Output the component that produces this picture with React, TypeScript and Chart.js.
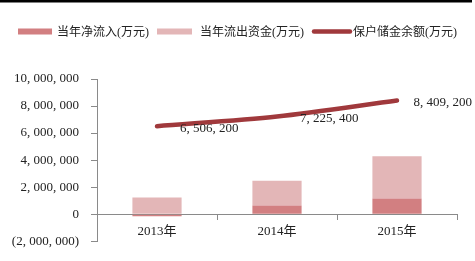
import React, { useEffect, useRef } from "react";
import { Chart, registerables } from "chart.js";

Chart.register(...registerables);

const categories = ["2013年", "2014年", "2015年"];
const netInflow = [-150000, 650000, 1160000];
const outflowFunds = [1240000, 1820000, 3130000];
const reserveBalance = [6506200, 7225400, 8409200];
const yTicks = { min: -2000000, max: 10000000, step: 2000000 };
const seriesNames = ["当年净流入(万元)", "当年流出资金(万元)", "保户储金余额(万元)"];

const COLORS = { net: "#d27f81", out: "#e3b6b7", line: "#a0393c", axis: "#8a8a8a", text: "#222" };
const FONT = "'Liberation Serif', 'Noto Sans CJK SC', serif";

function fmt(v: number): string {
  const s = Math.abs(v).toLocaleString("en-US").replace(/,/g, ", ");
  return v < 0 ? `(${s})` : s;
}

const extras = {
  id: "extras",
  afterDraw(chart: any) {
    const ctx = chart.ctx as CanvasRenderingContext2D;
    const W = chart.width;
    ctx.save();
    // top rule
    ctx.fillStyle = "#000000";
    ctx.fillRect(0, 0, 472, 2.5);

    // legend
    ctx.font = `12px ${FONT}`;
    ctx.textBaseline = "middle";
    const cy = 31.5;
    const items = [
      { kind: "box", color: COLORS.net, w: 34, gapAfterBox: 5 },
      { kind: "box", color: COLORS.out, w: 35, gapAfterBox: 8 },
      { kind: "line", color: COLORS.line, w: 40, gapAfterBox: 1 },
    ];
    const gapBetween = 8;
    const widths = items.map((it, i) => it.w + it.gapAfterBox + ctx.measureText(seriesNames[i]).width);
    const total = widths.reduce((a, b) => a + b, 0) + gapBetween * (items.length - 1);
    let x = (W - total) / 2;
    items.forEach((it, i) => {
      if (it.kind === "box") {
        ctx.fillStyle = it.color;
        ctx.fillRect(x, cy - 3, it.w, 6);
      } else {
        ctx.strokeStyle = it.color;
        ctx.lineWidth = 4.5;
        ctx.lineCap = "round";
        ctx.beginPath();
        ctx.moveTo(x + 2, cy);
        ctx.lineTo(x + it.w - 2, cy);
        ctx.stroke();
      }
      ctx.fillStyle = COLORS.text;
      ctx.textAlign = "left";
      ctx.fillText(seriesNames[i], x + it.w + it.gapAfterBox, cy + 1);
      x += widths[i] + gapBetween;
    });

    // line data labels
    const meta = chart.getDatasetMeta(2);
    ctx.font = `13px ${FONT}`;
    ctx.fillStyle = COLORS.text;
    ctx.textAlign = "left";
    meta.data.forEach((pt: any, i: number) => {
      const label = fmt(reserveBalance[i]);
      const tw = ctx.measureText(label).width;
      const lx = Math.min(pt.x + 23, W - tw - 3);
      ctx.fillText(label, lx, pt.y + 2);
    });
    ctx.restore();
  },
};

export default function App() {
  const ref = useRef<HTMLCanvasElement | null>(null);
  useEffect(() => {
    document.body.style.margin = "0";
    document.body.style.overflow = "hidden";
    if (!ref.current) return;
    const chart = new Chart(ref.current, {
      type: "bar",
      data: {
        labels: categories,
        datasets: [
          {
            label: seriesNames[0],
            data: netInflow,
            backgroundColor: COLORS.net,
            stack: "bars",
            categoryPercentage: 1,
            barPercentage: 0.41,
          },
          {
            label: seriesNames[1],
            data: outflowFunds,
            backgroundColor: COLORS.out,
            stack: "bars",
            categoryPercentage: 1,
            barPercentage: 0.41,
          },
          {
            type: "line",
            label: seriesNames[2],
            data: reserveBalance,
            borderColor: COLORS.line,
            backgroundColor: COLORS.line,
            borderWidth: 4.5,
            borderCapStyle: "round",
            pointRadius: 0,
            tension: 0.3,
            stack: "line",
          } as any,
        ],
      },
      plugins: [extras],
      options: {
        animation: false,
        responsive: false,
        maintainAspectRatio: false,
        layout: { padding: { top: 79, left: 0, right: 18, bottom: 2.5 } },
        plugins: { legend: { display: false }, tooltip: { enabled: false } },
        scales: {
          x: {
            position: { y: 0 } as any,
            stacked: true,
            grid: {
              offset: true,
              drawOnChartArea: false,
              drawTicks: true,
              tickLength: 5,
              color: COLORS.axis,
            },
            border: { color: COLORS.axis, width: 1 },
            ticks: { color: COLORS.text, font: { family: FONT, size: 13 }, padding: 5 },
            afterFit: (axis: any) => {
              axis.height = 10;
            },
          },
          y: {
            stacked: true,
            min: yTicks.min,
            max: yTicks.max,
            grid: {
              drawOnChartArea: false,
              drawTicks: true,
              tickLength: 6,
              color: COLORS.axis,
            },
            border: { color: COLORS.axis, width: 1 },
            ticks: {
              stepSize: yTicks.step,
              color: COLORS.text,
              font: { family: FONT, size: 13 },
              padding: 12,
              callback: (v: any) => fmt(Number(v)),
            },
            afterFit: (axis: any) => {
              axis.width = 97;
            },
          },
        },
      },
    });
    return () => chart.destroy();
  }, []);
  return (
    <div style={{ width: 475, height: 261, position: "relative", overflow: "hidden" }}>
      <canvas
        ref={ref}
        width={475}
        height={261}
        style={{ width: 475, height: 261, display: "block" }}
      />
    </div>
  );
}
